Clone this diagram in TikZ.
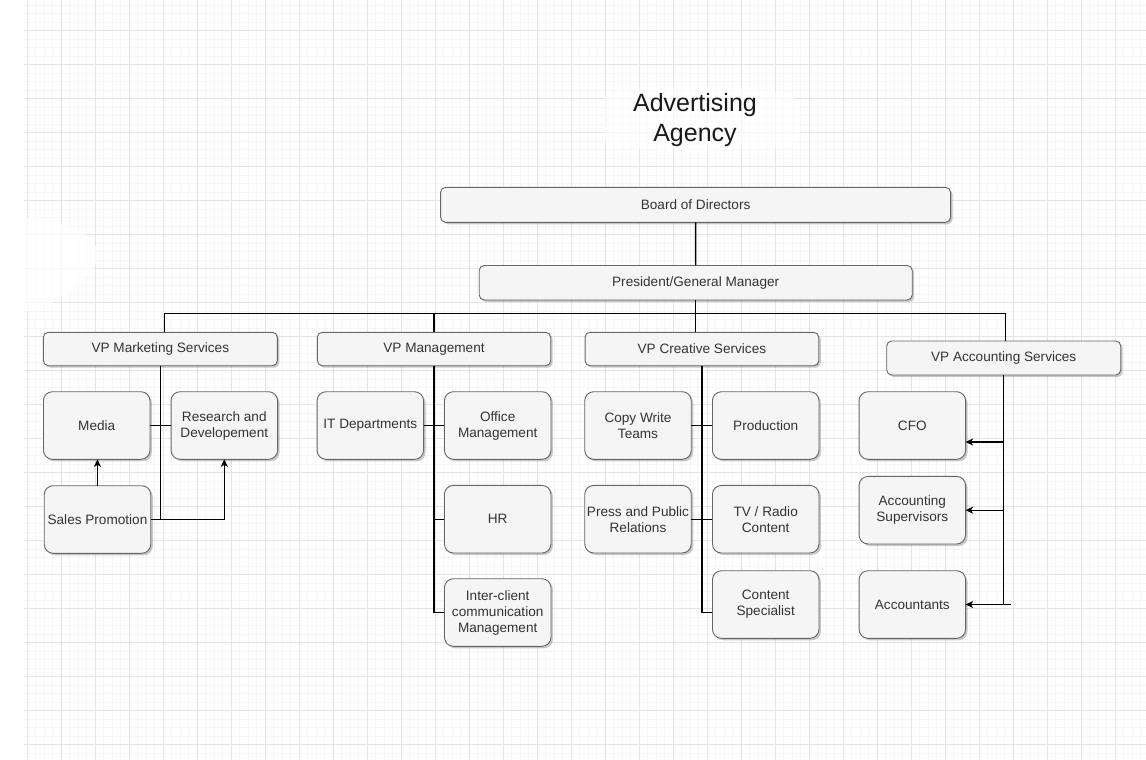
\documentclass[tikz,border=0pt]{standalone}
\usepackage{fontspec}
\setmainfont{Liberation Sans}
\usetikzlibrary{shadows,arrows.meta}
\definecolor{boxfill}{HTML}{F5F5F5}
\definecolor{boxline}{HTML}{666666}
\definecolor{txt}{HTML}{333333}
\definecolor{gmaj}{HTML}{E4E4E4}
\definecolor{gmin}{HTML}{F5F5F5}
\tikzset{
  base/.style={draw=boxline, fill=boxfill, line width=0.9pt, text=txt, inner sep=0pt, outer sep=0pt,
    align=center, font=\fontsize{13.6}{16}\selectfont,
    drop shadow={shadow xshift=2pt, shadow yshift=-2pt, opacity=0.3, fill=black!70}},
  widebox/.style={base, rounded corners=5pt, minimum height=34pt},
  smallbox/.style={base, rounded corners=9pt, minimum width=106.5pt, minimum height=67.6pt},
  conn/.style={draw=black, line width=1.4pt},
  arr/.style={conn, -{Stealth[length=7.5pt,width=7pt,inset=2pt]}},
  gridmin/.style={draw=gmin, line width=0.7pt},
  gridmaj/.style={draw=gmaj, line width=1pt},
}
\begin{document}
\begin{tikzpicture}[x=1pt,y=-1pt]
\useasboundingbox (0,0) rectangle (1146,760);
\fill[white] (0,0) rectangle (1146,760);
% grid
\begin{scope}
  \clip (24,0) rectangle (1146,760);
  \foreach \i in {0,...,135} { \draw[gridmin] (1.8+8.5*\i,0) -- (1.8+8.5*\i,760); }
  \foreach \i in {0,...,90} { \draw[gridmin] (0,5.2+8.5*\i) -- (1146,5.2+8.5*\i); }
  \foreach \i in {0,...,33} { \draw[gridmaj] (27.3+34*\i,0) -- (27.3+34*\i,760); }
  \foreach \i in {0,...,22} { \draw[gridmaj] (0,30.7+34*\i) -- (1146,30.7+34*\i); }
\end{scope}
\fill[white, opacity=0.75] plot[smooth cycle] coordinates {(24,222) (60,224) (92,240) (96,262) (75,290) (45,305) (24,306)};
\fill[white, opacity=0.6] plot[smooth cycle] coordinates {(612,92) (700,86) (790,96) (800,124) (790,146) (700,150) (612,146) (604,120)};

% title
\node[font=\fontsize{25}{30}\selectfont, align=center, text=black!90, inner sep=0pt] (title) at (695,120.5) {Advertising\\Agency};

% top
\node[widebox, minimum width=510pt, minimum height=35pt] (board) at (695.6,204.8) {Board of Directors};
\node[widebox, minimum width=433pt, minimum height=34.5pt] (pres) at (695.7,282.7) {President/General Manager};

% VPs
\node[widebox, minimum width=234pt, minimum height=33.4pt] (vpm) at (160.3,349) {VP Marketing Services};
\node[widebox, minimum width=233.4pt, minimum height=33.4pt] (vpmg) at (434,349) {VP Management};
\node[widebox, minimum width=233.7pt, minimum height=33.4pt] (vpc) at (701.9,349) {VP Creative Services};
\node[widebox, minimum width=234pt, minimum height=34pt] (vpa) at (1003.7,358) {VP Accounting Services};

% marketing
\node[smallbox] (media) at (96.7,425.5) {Media};
\node[smallbox] (rnd) at (224.3,425.5) {Research and\\Developement};
\node[smallbox] (sales) at (97.5,519.5) {Sales Promotion};

% management
\node[smallbox] (it) at (370.3,425.5) {IT Departments};
\node[smallbox] (office) at (497.7,425.5) {Office\\Management};
\node[smallbox] (hr) at (497.7,519.2) {HR};
\node[smallbox] (inter) at (497.7,612.5) {Inter-client\\communication\\Management};

% creative
\node[smallbox] (copy) at (638,425.5) {Copy Write\\Teams};
\node[smallbox] (prod) at (765.7,425.5) {Production};
\node[smallbox] (press) at (638,519.2) {Press and Public\\Relations};
\node[smallbox] (tv) at (765.7,519.2) {TV / Radio\\Content};
\node[smallbox] (content) at (765.7,604.5) {Content\\Specialist};

% accounting
\node[smallbox] (cfo) at (912.3,425.5) {CFO};
\node[smallbox] (accsup) at (912.3,510.2) {Accounting\\Supervisors};
\node[smallbox] (acct) at (912.3,604.5) {Accountants};

% connectors top
\coordinate (bus) at (695.7,313.5);
\draw[conn] (board.south) -- (pres.north);
\draw[conn] (pres.south) -- (bus);
\draw[conn] (bus) -| ([xshift=4.4pt]vpm.north);
\draw[conn] (bus) -| (vpmg.north);
\draw[conn] (bus) -| ([xshift=-6.2pt]vpc.north);
\draw[conn] (bus) -| ([xshift=2pt]vpa.north);

% marketing connectors
\draw[conn] (vpm.south) -- (vpm.south |- sales.east);
\draw[conn] (media.east) -- (rnd.west);
\draw[arr] (sales.east) -| (rnd.south);
\draw[arr] (sales.north) -- (sales.north |- media.south);

% management connectors
\draw[conn] (vpmg.south) |- (inter.west);
\draw[conn] (it.east) -- (office.west);
\draw[conn] (vpmg.south |- hr.west) -- (hr.west);

% creative connectors
\draw[conn] (vpc.south) |- ([yshift=-7.8pt]content.west);
\draw[line width=2.2pt] (vpc.south) -- (vpc.south |- tv.west);
\draw[conn] (copy.east) -- (prod.west);
\draw[conn] (press.east) -- (tv.west);

% accounting connectors
\draw[arr] (vpa.south) |- ([yshift=-16.5pt]cfo.east);
\draw[arr] (vpa.south) |- (accsup.east);
\draw[arr] (vpa.south) |- (acct.east);
\coordinate (stub) at (1010.7,604.5);
\draw[conn] (vpa.south |- acct.east) -- (stub);
\end{tikzpicture}
\end{document}
